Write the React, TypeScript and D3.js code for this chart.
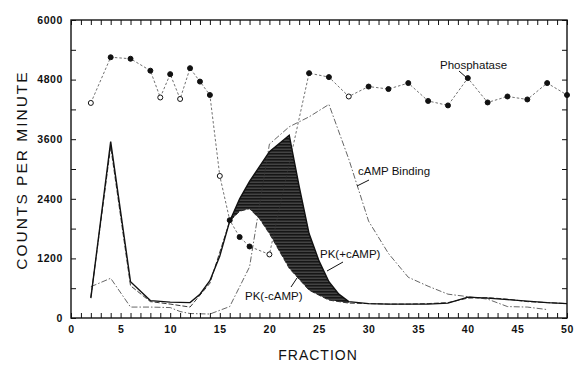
import React, { useEffect, useRef } from 'react'
import * as d3 from 'd3'

// fraction numbers and counts per minute
const phosFractions = [2, 4, 6, 8, 9, 10, 11, 12, 13, 14, 15, 16, 17, 18, 20, 24, 26, 28, 30, 32, 34, 36, 38, 40, 42, 44, 46, 48, 50]
const phosphatase = [4330, 5250, 5220, 4980, 4440, 4910, 4410, 5030, 4760, 4490, 2860, 1970, 1630, 1440, 1280, 4930, 4850, 4460, 4660, 4610, 4730, 4370, 4280, 4830, 4340, 4460, 4400, 4730, 4490]
const phosOpen = [2, 9, 11, 15, 20, 28]

const pkPlusFractions = [2, 4, 6, 8, 10, 12, 13, 14, 15, 16, 17, 18, 20, 22, 23, 24, 25, 26, 27, 28, 30, 32, 34, 36, 38, 40, 42, 44, 46, 48, 50]
const pkPlus = [400, 3550, 730, 350, 320, 310, 480, 750, 1250, 1950, 2400, 2750, 3350, 3680, 2650, 1700, 1150, 730, 480, 330, 290, 280, 280, 280, 300, 420, 400, 370, 340, 310, 290]

const pkMinusFractions = [2, 4, 6, 8, 10, 12, 14, 16, 17, 18, 19, 20, 21, 22, 24, 26, 28, 30, 32, 34, 36, 38, 40, 42, 44, 46, 48, 50]
const pkMinus = [420, 3450, 650, 330, 280, 220, 700, 1950, 2150, 2200, 2000, 1700, 1350, 1000, 560, 360, 300, 290, 280, 280, 290, 310, 400, 410, 380, 330, 310, 290]

const bindFractions = [2, 4, 6, 8, 10, 11, 12, 14, 16, 18, 20, 22, 24, 26, 28, 30, 32, 34, 36, 38, 40, 42, 44, 46, 48]
const binding = [630, 800, 220, 220, 210, 130, 90, 80, 230, 1030, 3500, 3850, 4050, 4300, 3200, 1950, 1300, 820, 640, 480, 430, 380, 230, 220, 170]

const shadeRange = [16, 28]
const xTicks = d3.range(0, 51)
const yTicks = d3.range(0, 6001, 600)

const FONT = 'Liberation Sans, Arial, Helvetica, sans-serif'

function App() {
  const ref = useRef<SVGSVGElement>(null)

  useEffect(() => {
    const svg = d3.select(ref.current)
    svg.selectAll('*').remove()

    const x = d3.scaleLinear().domain([0, 50]).range([71, 567])
    const y = d3.scaleLinear().domain([0, 6000]).range([318, 20])

    const pts = (xs: number[], ys: number[]) => xs.map((f, i) => [f, ys[i]] as [number, number])
    const line = d3.line<[number, number]>().x(d => x(d[0])).y(d => y(d[1]))

    // hatch pattern for the shaded band
    const defs = svg.append('defs')
    const pat = defs.append('pattern')
      .attr('id', 'hatch')
      .attr('patternUnits', 'userSpaceOnUse')
      .attr('width', 6).attr('height', 3)
    pat.append('rect').attr('width', 6).attr('height', 3).attr('fill', '#161616')
    pat.append('line')
      .attr('x1', 0).attr('x2', 6).attr('y1', 2.2).attr('y2', 2.2)
      .attr('stroke', '#9a9a9a').attr('stroke-width', 0.5)

    // shaded area between PK(+cAMP) and PK(-cAMP)
    const interp = (xs: number[], ys: number[], f: number) => {
      const i = d3.bisectLeft(xs, f)
      if (xs[i] === f) return ys[i]
      const t = (f - xs[i - 1]) / (xs[i] - xs[i - 1])
      return ys[i - 1] + t * (ys[i] - ys[i - 1])
    }
    const fs = Array.from(new Set([...pkPlusFractions, ...pkMinusFractions]))
      .filter(f => f >= shadeRange[0] && f <= shadeRange[1]).sort((a, b) => a - b)
    const area = d3.area<number>()
      .x(f => x(f))
      .y0(f => y(interp(pkMinusFractions, pkMinus, f)))
      .y1(f => y(interp(pkPlusFractions, pkPlus, f)))
    svg.append('path').attr('d', area(fs)).attr('fill', 'url(#hatch)')

    // cAMP binding
    svg.append('path').attr('d', line(pts(bindFractions, binding)))
      .attr('fill', 'none').attr('stroke', '#333').attr('stroke-width', 0.75)
      .attr('stroke-dasharray', '6,2,1.5,2')

    // PK(-cAMP)
    svg.append('path').attr('d', line(pts(pkMinusFractions, pkMinus)))
      .attr('fill', 'none').attr('stroke', '#222').attr('stroke-width', 0.9)
      .attr('stroke-dasharray', '5,2')

    // PK(+cAMP)
    svg.append('path').attr('d', line(pts(pkPlusFractions, pkPlus)))
      .attr('fill', 'none').attr('stroke', '#111').attr('stroke-width', 1.4)

    // phosphatase
    const phos = pts(phosFractions, phosphatase)
    svg.append('path').attr('d', line(phos))
      .attr('fill', 'none').attr('stroke', '#333').attr('stroke-width', 0.7)
      .attr('stroke-dasharray', '2.5,2')
    svg.append('g').selectAll('circle')
      .data(phos).enter().append('circle')
      .attr('cx', d => x(d[0])).attr('cy', d => y(d[1]))
      .attr('r', 2.5)
      .attr('fill', d => phosOpen.includes(d[0]) ? '#fff' : '#111')
      .attr('stroke', '#111').attr('stroke-width', 1)

    // axes with inward ticks
    const styleAxis = (g: any) => {
      g.select('.domain').remove()
      g.selectAll('line').attr('stroke', '#111').attr('stroke-width', 1)
      g.selectAll('text')
        .attr('font-family', FONT).attr('font-size', 10.5).attr('font-weight', 'bold')
        .attr('fill', '#111').attr('letter-spacing', 0.6)
    }
    svg.append('g').attr('transform', 'translate(0,318)')
      .call(d3.axisBottom(x).tickValues(xTicks).tickSize(-5).tickPadding(8)
        .tickFormat((d: any) => (d % 5 === 0 ? String(d) : '')))
      .call(styleAxis)
    svg.append('g').attr('transform', 'translate(0,20)')
      .call(d3.axisTop(x).tickValues(xTicks).tickSize(-5).tickFormat(() => ''))
      .call(styleAxis)
    svg.append('g').attr('transform', 'translate(71,0)')
      .call(d3.axisLeft(y).tickValues(yTicks).tickSize(-5).tickPadding(8)
        .tickFormat((d: any) => (d % 1200 === 0 ? String(d) : '')))
      .call(styleAxis)
    svg.append('g').attr('transform', 'translate(567,0)')
      .call(d3.axisRight(y).tickValues(yTicks).tickSize(-5).tickFormat(() => ''))
      .call(styleAxis)

    svg.append('rect')
      .attr('x', 71).attr('y', 20).attr('width', 496).attr('height', 298)
      .attr('fill', 'none').attr('stroke', '#111').attr('stroke-width', 1.4)

    // axis titles
    svg.append('text')
      .attr('transform', 'translate(27,170) rotate(-90)')
      .attr('text-anchor', 'middle')
      .attr('font-family', FONT).attr('font-size', 15.5).attr('letter-spacing', 2)
      .attr('fill', '#111')
      .text('COUNTS PER MINUTE')
    svg.append('text')
      .attr('x', 318).attr('y', 360)
      .attr('text-anchor', 'middle')
      .attr('font-family', FONT).attr('font-size', 14).attr('letter-spacing', 1)
      .attr('fill', '#111')
      .text('FRACTION')

    // series labels with pointer lines
    const labels = [
      { text: 'Phosphatase', x: 440, y: 69, p: [[459, 71], [467, 78]] },
      { text: 'cAMP Binding', x: 358, y: 175, p: [[369, 180], [357, 186]] },
      { text: 'PK(+cAMP)', x: 320, y: 258, p: [[343, 262], [327, 271]] },
      { text: 'PK(-cAMP)', x: 245, y: 300, p: [[291, 287], [297, 278]] },
    ]
    labels.forEach(l => {
      svg.append('text')
        .attr('x', l.x).attr('y', l.y)
        .attr('font-family', FONT).attr('font-size', 11.5).attr('fill', '#111')
        .text(l.text)
      svg.append('line')
        .attr('x1', l.p[0][0]).attr('y1', l.p[0][1])
        .attr('x2', l.p[1][0]).attr('y2', l.p[1][1])
        .attr('stroke', '#111').attr('stroke-width', 1)
    })
  }, [])

  return (
    <svg ref={ref} width={575} height={370}
      style={{ position: 'absolute', left: 0, top: 0, background: '#fff' }} />
  )
}

export default App
